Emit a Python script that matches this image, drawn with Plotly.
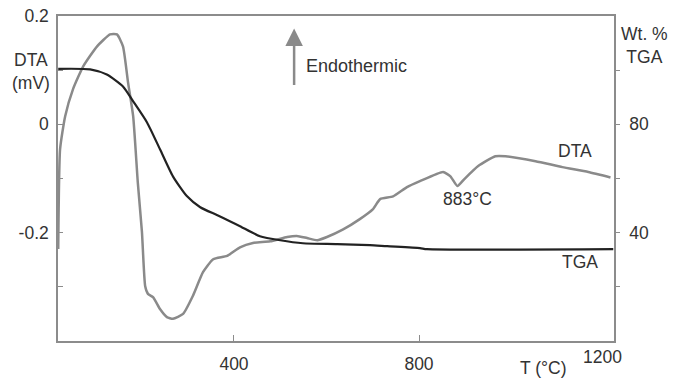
import plotly.graph_objects as go

# DTA curve (mV) vs temperature (°C)
dta_t = [20, 24, 35, 52, 74, 104, 132, 147, 160, 171, 182, 192, 201, 208, 214, 225,
         240, 255, 268, 290, 311, 333, 355, 385, 413, 441, 478, 515, 536, 558, 580,
         601, 636, 672, 700, 716, 744, 774, 802, 852, 868, 883, 898, 928, 965, 987,
         1052, 1110, 1166, 1214]
dta_v = [-0.230, -0.046, 0.015, 0.065, 0.107, 0.144, 0.166, 0.166, 0.144, 0.077,
         0.015, -0.107, -0.199, -0.299, -0.313, -0.319, -0.341, -0.356, -0.359,
         -0.350, -0.317, -0.273, -0.249, -0.243, -0.227, -0.219, -0.216, -0.208,
         -0.206, -0.210, -0.214, -0.208, -0.194, -0.175, -0.157, -0.138, -0.133,
         -0.116, -0.105, -0.088, -0.096, -0.114, -0.101, -0.077, -0.059, -0.059,
         -0.068, -0.079, -0.088, -0.098]

# TGA curve (wt. %) vs temperature (°C)
tga_t = [20, 89, 125, 160, 182, 212, 240, 268, 298, 327, 363, 391, 413, 456, 500,
         549, 623, 694, 731, 802, 817, 1220]
tga_v = [100.5, 100.3, 98.4, 94.0, 88.5, 80.7, 70.8, 60.8, 53.5, 49.4, 46.5, 44.2,
         42.4, 38.7, 37.2, 36.1, 35.8, 35.4, 35.0, 34.3, 33.9, 33.9]

x_ticks = [400, 800]
y_ticks = [0.2, 0.1, 0, -0.1, -0.2, -0.3]
y_ticktext = ["0.2", "", "0", "", "-0.2", ""]
y2_ticks = [100, 80, 60, 40, 20]
y2_ticktext = ["", "80", "", "40", ""]

FONT = "Liberation Sans, Arial, sans-serif"
TXT = "#333333"
AX = "#8c8c8c"
FS = 17.5

fig = go.Figure()
fig.add_trace(go.Scatter(x=dta_t, y=dta_v, mode="lines",
                         line=dict(color="#8a8a8a", width=2.5, shape="spline", smoothing=0.5),
                         yaxis="y", showlegend=False))
fig.add_trace(go.Scatter(x=tga_t, y=tga_v, mode="lines",
                         line=dict(color="#222222", width=2.2, shape="spline", smoothing=0.6),
                         yaxis="y2", showlegend=False))

fig.update_layout(
    width=677, height=378,
    margin=dict(l=58, r=63, t=16, b=37),
    paper_bgcolor="white", plot_bgcolor="white",
    font=dict(family=FONT, size=FS, color=TXT),
    xaxis=dict(range=[19.5, 1221.6], tickvals=x_ticks, ticks="inside", ticklen=6,
               tickcolor=AX, showline=True, linecolor=AX, linewidth=1.5, mirror=True,
               showgrid=False, zeroline=False, ticklabelstandoff=6, automargin=False),
    yaxis=dict(range=[-0.4, 0.2], tickvals=y_ticks, ticktext=y_ticktext,
               ticks="inside", ticklen=5, tickcolor=AX, showline=True, linecolor=AX,
               linewidth=1.5, showgrid=False, zeroline=False, ticklabelstandoff=4,
               automargin=False),
    yaxis2=dict(range=[0, 120], tickvals=y2_ticks, ticktext=y2_ticktext, overlaying="y",
                side="right", ticks="outside", ticklen=4, tickcolor=AX, showline=True,
                linecolor=AX, linewidth=1.5, showgrid=False, zeroline=False,
                ticklabelstandoff=6, automargin=False),
)

# paper coords: plot area x 58..614 (556 px), y 16..341 (325 px)
def px(xp):
    return (xp - 58) / 556.0

def py(yp):
    return (341 - yp) / 325.0

ann = [
    dict(text="DTA<br>(mV)", xref="paper", yref="paper", x=px(31), y=py(72), size=FS),
    dict(text="Wt. %<br>TGA", xref="paper", yref="paper", x=px(644), y=py(45), size=FS),
    dict(text="DTA", xref="x", yref="y", x=1137, y=-0.050, size=FS),
    dict(text="883°C", xref="x", yref="y", x=904, y=-0.138, size=FS),
    dict(text="TGA", xref="x", yref="y", x=1148, y=-0.254, size=FS),
    dict(text="T (°C)", xref="paper", yref="paper", x=px(543), y=py(368), size=FS),
    dict(text="1200", xref="paper", yref="paper", x=px(602), y=py(357), size=FS),
]
for a in ann:
    size = a.pop("size")
    fig.add_annotation(showarrow=False, xanchor="center", yanchor="middle", align="center",
                       font=dict(family=FONT, size=size, color=TXT), **a)

fig.add_annotation(text="Endothermic", xref="paper", yref="paper", x=px(304), y=py(66),
                   xanchor="left", yanchor="middle", showarrow=False,
                   font=dict(family=FONT, size=18, color=TXT))

# Endothermic arrow
fig.add_annotation(x=530, y=0.177, xref="x", yref="y", ax=0, ay=58, text="",
                   showarrow=True, arrowhead=2, arrowsize=1.4, arrowwidth=2.5,
                   arrowcolor="#8a8a8a")

fig.write_html("out.html", config={"displayModeBar": False},
               post_script="document.body.style.margin='0';document.body.style.overflow='hidden';")
